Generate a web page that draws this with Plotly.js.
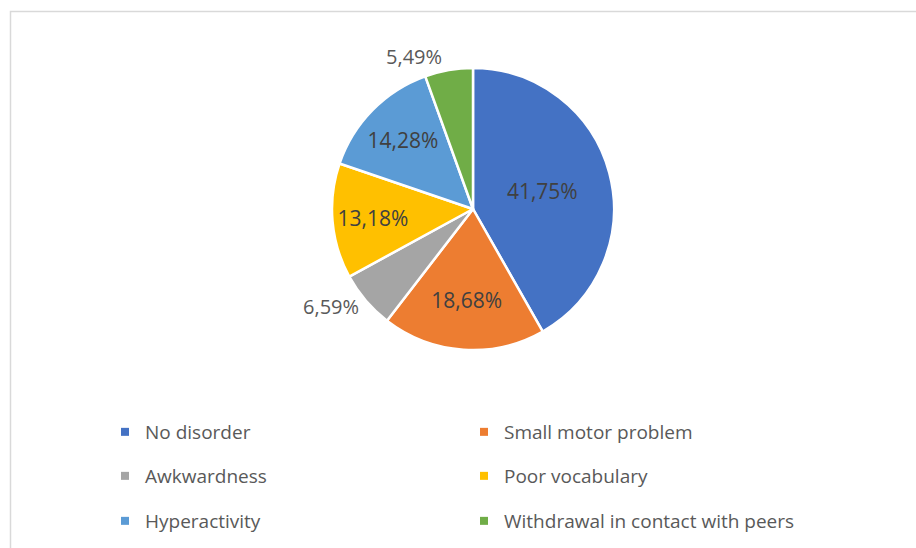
<!DOCTYPE html>
<html>
<head>
<meta charset="utf-8">
<script src="https://cdn.plot.ly/plotly-3.0.1.min.js"></script>
<style>html,body{margin:0;padding:0;background:#fff;}#chart{width:916px;height:548px;}</style>
</head>
<body>
<div id="chart"></div>
<script>
const categories = ["No disorder", "Small motor problem", "Awkwardness", "Poor vocabulary", "Hyperactivity", "Withdrawal in contact with peers"];
const values = [41.75, 18.68, 6.59, 13.18, 14.28, 5.49];
const colors = ["#4472C4", "#ED7D31", "#A5A5A5", "#FFC000", "#5B9BD5", "#70AD47"];
const labelPositions = ["inside", "inside", "outside", "inside", "inside", "outside"];

const W = 916, H = 548;
const px = x => x / W;
const py = y => 1 - y / H;
const FONT = "Open Sans, sans-serif";

const cx = 473, cy = 209, r = 141;

const pie = {
  type: "pie",
  labels: categories,
  values: values,
  sort: false,
  direction: "clockwise",
  rotation: 0,
  marker: {colors: colors, line: {color: "#ffffff", width: 2.5}},
  textposition: labelPositions,
  insidetextorientation: "horizontal",
  texttemplate: "%{value:.2f}%",
  textfont: {family: FONT, size: 21, color: "#404040"},
  insidetextfont: {family: FONT, size: 21, color: "#404040"},
  outsidetextfont: {family: FONT, size: 20, color: "#595959"},
  domain: {x: [px(cx - r), px(cx + r)], y: [py(cy + r), py(cy - r)]},
  showlegend: false,
  hoverinfo: "label+percent"
};

const legendPos = [[125, 432], [484, 432], [125, 476], [484, 476], [125, 521], [484, 521]];
const traces = [pie];
const layout = {
  width: W, height: H,
  margin: {l: 0, r: 0, t: 0, b: 0},
  paper_bgcolor: "#ffffff",
  plot_bgcolor: "#ffffff",
  separators: ", ",
  xaxis: {visible: false},
  yaxis: {visible: false},
  shapes: [{type: "rect", xref: "paper", yref: "paper", x0: px(10.5), x1: 1.2, y0: -0.2, y1: py(11.5), line: {color: "#d9d9d9", width: 1.5}}]
};
categories.forEach((c, i) => {
  const key = i === 0 ? "legend" : "legend" + (i + 1);
  traces.push({
    type: "scatter", mode: "markers", x: [null], y: [null], name: c,
    marker: {symbol: "square", size: 8, color: colors[i]},
    legend: key, showlegend: true, hoverinfo: "skip"
  });
  layout[key] = {
    x: px(legendPos[i][0] - 20), xanchor: "left",
    y: py(legendPos[i][1]), yanchor: "middle",
    bgcolor: "rgba(0,0,0,0)", borderwidth: 0,
    font: {family: FONT, size: 19, color: "#595959"}
  };
});

Plotly.newPlot("chart", traces, layout, {displayModeBar: false, staticPlot: true});
</script>
</body>
</html>
